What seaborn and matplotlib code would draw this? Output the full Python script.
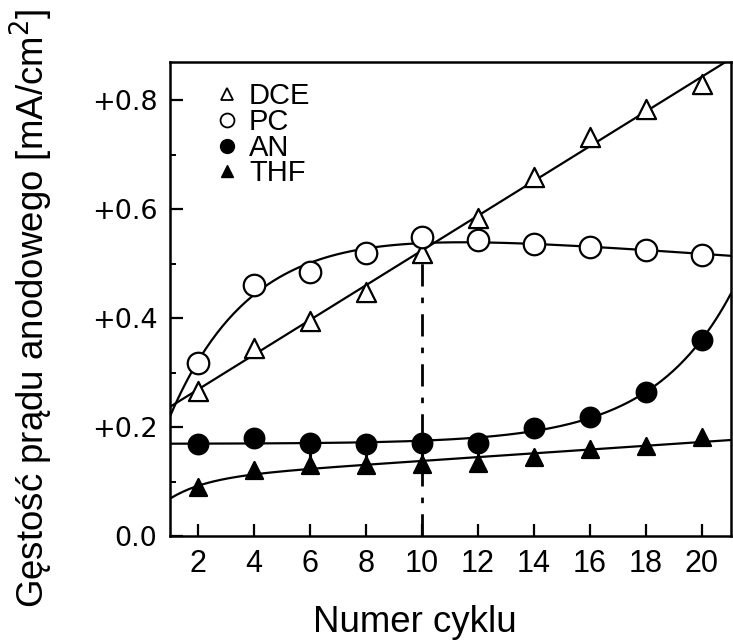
import numpy as np
import pandas as pd
import matplotlib
matplotlib.use("Agg")
import matplotlib.pyplot as plt
from matplotlib.lines import Line2D
from matplotlib.ticker import MultipleLocator, FixedLocator, FixedFormatter
import seaborn as sns

# Anodic current density [mA/cm^2] recorded for each cycle number
cycles = [2, 4, 6, 8, 10, 12, 14, 16, 18, 20]
dce = [0.266, 0.345, 0.394, 0.448, 0.519, 0.583, 0.659, 0.732, 0.783, 0.829]
pc = [0.317, 0.460, 0.484, 0.519, 0.549, 0.543, 0.536, 0.530, 0.525, 0.516]
an = [0.169, 0.180, 0.171, 0.169, 0.171, 0.171, 0.198, 0.218, 0.264, 0.360]
thf = [0.090, 0.121, 0.130, 0.130, 0.132, 0.134, 0.145, 0.160, 0.166, 0.182]
solvents = ["DCE", "PC", "AN", "THF"]

x_tick_values = [2, 4, 6, 8, 10, 12, 14, 16, 18, 20]
y_tick_values = [0.0, 0.2, 0.4, 0.6, 0.8]
y_tick_labels = ["0.0", "+0.2", "+0.4", "+0.6", "+0.8"]
marked_cycle = 10

sns.set_style("ticks")
plt.rcParams["font.family"] = ["Liberation Sans", "DejaVu Sans"]
plt.rcParams.update({"text.color": "black", "xtick.color": "black",
                     "ytick.color": "black", "axes.labelcolor": "black"})

fig = plt.figure(figsize=(7.33, 6.43), dpi=100)
ax = fig.add_axes([170 / 733, 1 - 536 / 643, 561 / 733, (536 - 62) / 643])

x_min, x_max = 1.0, 21.05
grid = np.linspace(x_min, x_max, 300)
xc = np.asarray(cycles, dtype=float)


def scan_fit(values, basis, ks):
    # least-squares fit of a linear combination of basis(x, k), scanning k
    y = np.asarray(values)
    best = None
    for k in ks:
        A = basis(xc, k)
        sol, *_ = np.linalg.lstsq(A, y, rcond=None)
        err = np.sum((A @ sol - y) ** 2)
        if best is None or err < best[0]:
            best = (err, k, sol)
    _, k, sol = best
    return basis(grid, k) @ sol


def linear(values):
    coef = np.polyfit(xc, np.asarray(values), 1)
    return np.polyval(coef, grid)


def saturating(values, k_max):
    # y = a + b x + c exp(-k x)
    return scan_fit(values,
                    lambda x, k: np.column_stack([np.ones_like(x), x, np.exp(-k * x)]),
                    np.linspace(0.1, k_max, 200))


def growing(values):
    # y = a + b exp(k x)
    return scan_fit(values,
                    lambda x, k: np.column_stack([np.ones_like(x), np.exp(k * x)]),
                    np.linspace(0.05, 1.0, 400))


trends = pd.DataFrame({
    "cycle": np.tile(grid, 4),
    "density": np.concatenate([
        linear(dce),
        saturating(pc, 0.55),
        growing(an),
        saturating(thf, 0.75),
    ]),
    "solvent": np.repeat(solvents, len(grid)),
})
points = pd.DataFrame({
    "cycle": cycles * 4,
    "density": dce + pc + an + thf,
    "solvent": np.repeat(solvents, len(cycles)),
})

sns.lineplot(data=trends, x="cycle", y="density", units="solvent",
             estimator=None, color="black", lw=1.6, ax=ax, legend=False)

# cycle 10 marker line
ax.plot([marked_cycle, marked_cycle], [0, dce[cycles.index(marked_cycle)]],
        color="black", lw=2.0, dashes=(8, 4, 2, 4), zorder=2)

# stems joining AN and THF points at steady cycles
steady = [6, 8, 10, 12]
ax.vlines(steady, [thf[cycles.index(c)] for c in steady],
          [an[cycles.index(c)] for c in steady], color="black", lw=2.2, zorder=3)

styles = {
    "DCE": dict(marker="^", facecolor="white", s=190),
    "PC": dict(marker="o", facecolor="white", s=240),
    "AN": dict(marker="o", facecolor="black", s=200),
    "THF": dict(marker="^", facecolor="black", s=150),
}
for name in solvents:
    st = styles[name]
    sub = points[points["solvent"] == name]
    sns.scatterplot(data=sub, x="cycle", y="density", ax=ax,
                    marker=st["marker"], s=st["s"], color=st["facecolor"],
                    edgecolor="black", linewidth=1.6, zorder=4, legend=False)

ax.set_xlim(x_min, x_max)
ax.set_ylim(0, 0.87)
ax.xaxis.set_major_locator(FixedLocator(x_tick_values))
ax.yaxis.set_major_locator(FixedLocator(y_tick_values))
ax.yaxis.set_major_formatter(FixedFormatter(y_tick_labels))
ax.yaxis.set_minor_locator(MultipleLocator(0.1))
ax.tick_params(axis="both", which="major", direction="in", length=9, width=1.6,
               color="black")
ax.tick_params(axis="y", which="minor", direction="in", length=4, width=1.4)
ax.tick_params(axis="x", labelsize=22, pad=9)
ax.tick_params(axis="y", labelsize=19.5, pad=9)
for lab in ax.get_yticklabels():
    lab.set_family("DejaVu Sans")
ax.tick_params(top=False, right=False)
for sp in ax.spines.values():
    sp.set_visible(True)
    sp.set_linewidth(1.8)
    sp.set_color("black")
ax.set_xlabel("")
ax.set_ylabel("")

handles = [
    Line2D([], [], ls="none", marker="^", mfc="white", mec="black", mew=1.3, ms=9),
    Line2D([], [], ls="none", marker="o", mfc="white", mec="black", mew=1.3, ms=10),
    Line2D([], [], ls="none", marker="o", mfc="black", mec="black", ms=10),
    Line2D([], [], ls="none", marker="^", mfc="black", mec="black", ms=9),
]
ax.legend(handles, solvents, loc="upper left", bbox_to_anchor=(0.05, 1.0),
          frameon=False, fontsize=21, handlelength=0.6, handletextpad=0.45,
          labelspacing=-0.08, borderpad=0.2)

fig.text(31 / 733, 1 - 308 / 643, "Gęstość prądu anodowego [mA/cm$^2$]",
         rotation=90, ha="center", va="center", fontsize=26.4)
fig.text(415 / 733, 1 - 632 / 643, "Numer cyklu", ha="center",
         va="baseline", fontsize=26.4)

fig.savefig("out.png", dpi=100)
